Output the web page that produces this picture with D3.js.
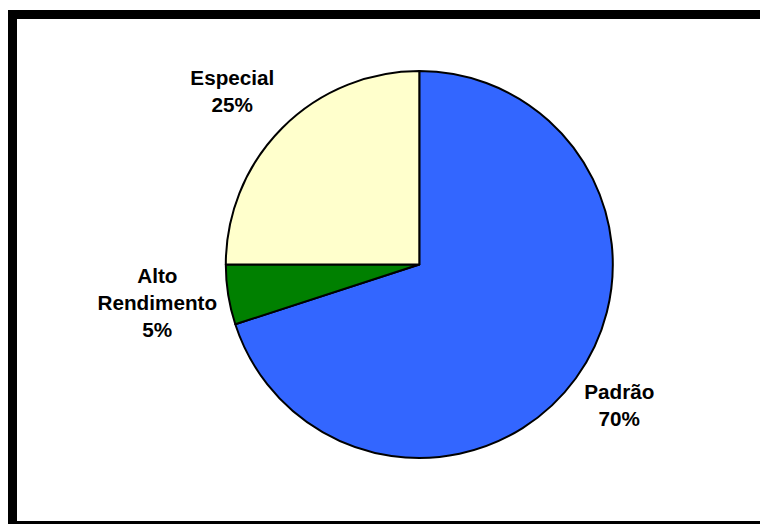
<!DOCTYPE html>
<html>
<head>
<meta charset="utf-8">
<script src="https://cdn.jsdelivr.net/npm/d3@7"></script>
<style>
  html, body { margin: 0; padding: 0; background: #fff; }
  svg { display: block; }
</style>
</head>
<body>
<svg id="chart" width="760" height="524"></svg>
<script>
// Market share by product line
const categories = ["Padrão", "Alto Rendimento", "Especial"];
const labelLines = [["Padrão"], ["Alto", "Rendimento"], ["Especial"]];
const values = [70, 5, 25];
const colors = ["#3366FF", "#008000", "#FFFFCC"];

const svg = d3.select("#chart");
const W = 760, H = 524;

// Frame
svg.append("rect").attr("x", 8).attr("y", 10).attr("width", W - 8).attr("height", 9).attr("fill", "#000");
svg.append("rect").attr("x", 8).attr("y", 10).attr("width", 9).attr("height", H - 10).attr("fill", "#000");
svg.append("rect").attr("x", 8).attr("y", 521).attr("width", W - 8).attr("height", 3).attr("fill", "#000");

const cx = 419.3, cy = 264.5, r = 193.5;
const g = svg.append("g").attr("transform", `translate(${cx},${cy})`);

const pie = d3.pie().sort(null).value(d => d)(values);
const arc = d3.arc().innerRadius(0).outerRadius(r);

g.selectAll("path.slice")
  .data(pie)
  .join("path")
  .attr("class", "slice")
  .attr("d", arc)
  .attr("fill", (d, i) => colors[i])
  .attr("stroke", "#000")
  .attr("stroke-width", 2)
  .attr("stroke-linejoin", "round");

// Label anchors (baseline of the first line, relative to the pie centre)
const labelAnchor = [
  { dx: 200, dy: 134 },
  { dx: -262, dy: 18 },
  { dx: -187, dy: -180 }
];
const lineH = 27;

pie.forEach((d, i) => {
  const lines = labelLines[i].concat([d3.format(".0%")(values[i] / d3.sum(values))]);
  const t = g.append("text")
    .attr("text-anchor", "middle")
    .attr("font-family", "Liberation Sans, Arial, sans-serif")
    .attr("font-weight", "bold")
    .attr("font-size", 20.7)
    .attr("fill", "#000");
  lines.forEach((s, k) => {
    t.append("tspan")
      .attr("x", labelAnchor[i].dx)
      .attr("y", labelAnchor[i].dy + k * lineH)
      .text(s);
  });
});
</script>
</body>
</html>
